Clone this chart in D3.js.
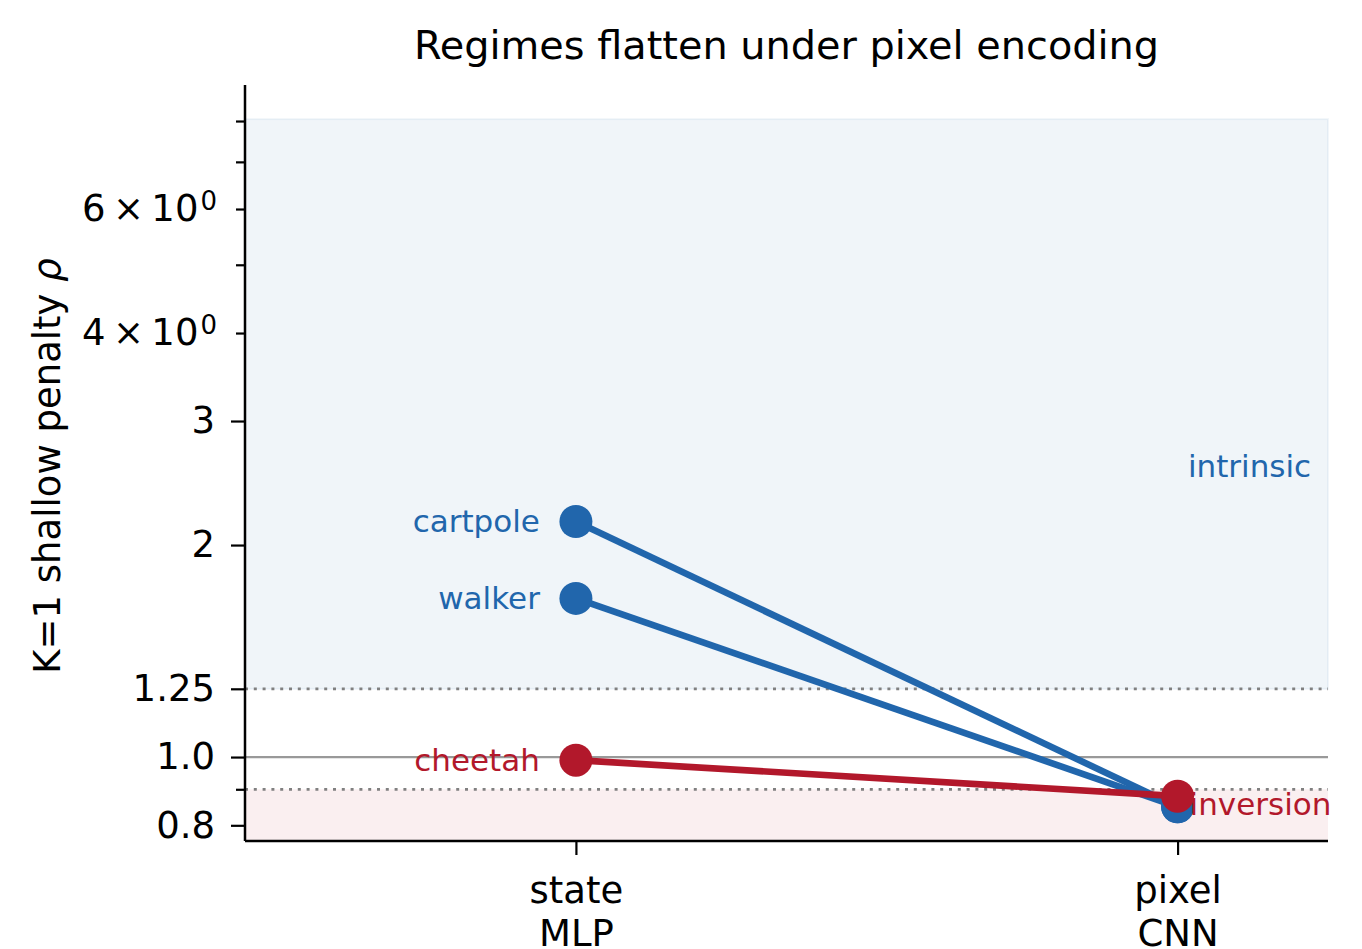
<!DOCTYPE html>
<html>
<head>
<meta charset="utf-8">
<script src="https://cdn.jsdelivr.net/npm/d3@7"></script>
<style>
  html, body { margin: 0; padding: 0; background: #fff; }
  svg { display: block; font-family: "DejaVu Sans", sans-serif; }
</style>
</head>
<body>
<svg id="chart" width="1362" height="949"></svg>
<script>
// ---------- data ----------
const encodings = ["state", "pixel"];
const architectures = ["MLP", "CNN"];
const envs = ["cartpole", "walker", "cheetah"];
const regimeOfEnv = ["intrinsic", "intrinsic", "inversion"];
const stateValues = [2.16, 1.68, 0.99];
const pixelValues = [0.85, 0.85, 0.88];
const majorTicks = [0.8, 1.0, 1.25, 2, 3];
const majorTickLabels = ["0.8", "1.0", "1.25", "2", "3"];
const minorTicks = [0.9, 4, 5, 6, 7, 8];
const minorTickLabels = ["", "4", "", "6", "", ""];
const intrinsicThreshold = 1.25;
const inversionThreshold = 0.9;
const intrinsicBandTop = 8.05;
const regimeLabels = ["intrinsic", "inversion"];

const colors = { intrinsic: "#2166ac", inversion: "#b2182b" };

// ---------- layout ----------
const svg = d3.select("#chart");
const L = 245, R = 1328, T = 85, B = 841;
const x = d3.scaleLinear().domain([-0.55, 1.25]).range([L, R]);
const y = d3.scaleLog().domain([0.76, 9.0]).range([B, T]);
const tickFont = 37, labelFont = 31;

// bands
svg.append("rect")
  .attr("x", L).attr("width", R - L)
  .attr("y", y(intrinsicBandTop)).attr("height", y(intrinsicThreshold) - y(intrinsicBandTop))
  .attr("fill", colors.intrinsic).attr("fill-opacity", 0.065)
  .attr("stroke", colors.intrinsic).attr("stroke-opacity", 0.06).attr("stroke-width", 2);
svg.append("rect")
  .attr("x", L).attr("width", R - L)
  .attr("y", y(inversionThreshold)).attr("height", B - y(inversionThreshold))
  .attr("fill", colors.inversion).attr("fill-opacity", 0.07);

// reference lines
svg.append("line")
  .attr("x1", L).attr("x2", R).attr("y1", y(1)).attr("y2", y(1))
  .attr("stroke", "#999").attr("stroke-width", 2.2);
[intrinsicThreshold, inversionThreshold].forEach(v => {
  svg.append("line")
    .attr("x1", L).attr("x2", R).attr("y1", y(v)).attr("y2", y(v))
    .attr("stroke", "#808080").attr("stroke-width", 2.8)
    .attr("stroke-dasharray", "3,5.8");
});

// regime labels
svg.append("text")
  .attr("x", x(1.222)).attr("y", y(2.59)).attr("dy", "0.35em")
  .attr("text-anchor", "end").attr("font-size", labelFont)
  .attr("fill", colors.intrinsic).text(regimeLabels[0]);

// lines + points
envs.forEach((env, i) => {
  const c = colors[regimeOfEnv[i]];
  svg.append("line")
    .attr("x1", x(0)).attr("y1", y(stateValues[i]))
    .attr("x2", x(1)).attr("y2", y(pixelValues[i]))
    .attr("stroke", c).attr("stroke-width", 6.6);
  svg.append("circle").attr("cx", x(0)).attr("cy", y(stateValues[i])).attr("r", 16.5).attr("fill", c);
  svg.append("circle").attr("cx", x(1)).attr("cy", y(pixelValues[i])).attr("r", 16.5).attr("fill", c);
  svg.append("text")
    .attr("x", x(0) - 36).attr("y", y(stateValues[i])).attr("dy", "0.35em")
    .attr("text-anchor", "end").attr("font-size", labelFont).attr("fill", c).text(env);
});

svg.append("text")
  .attr("x", x(1.02)).attr("y", y(0.858)).attr("dy", "0.35em")
  .attr("text-anchor", "start").attr("font-size", labelFont)
  .attr("fill", colors.inversion).text(regimeLabels[1]);

// ---------- axes ----------
const yMajor = d3.axisLeft(y).tickValues(majorTicks).tickSize(14).tickPadding(16)
  .tickFormat((d, i) => majorTickLabels[i]);
const gy = svg.append("g").attr("transform", `translate(${L},0)`).call(yMajor);
const yMinor = d3.axisLeft(y).tickValues(minorTicks).tickSize(9).tickPadding(19)
  .tickFormat(() => "");
const gym = svg.append("g").attr("transform", `translate(${L},0)`).call(yMinor);
gym.select(".domain").remove();
gym.selectAll(".tick text").each(function(d, i) {
  const lab = minorTickLabels[i];
  if (!lab) return;
  const t = d3.select(this);
  t.text(null);
  t.append("tspan").text(lab + "\u2009\u00d7\u200910");
  t.append("tspan").attr("class", "sup").attr("dx", 2).attr("dy", "-0.45em").text("0");
});

const xAxis = d3.axisBottom(x).tickValues([0, 1]).tickSize(14).tickFormat(() => "");
const gx = svg.append("g").attr("transform", `translate(0,${B})`).call(xAxis);
gx.selectAll(".tick text").each(function(d, i) {
  const t = d3.select(this);
  t.attr("y", null).attr("dy", null);
  t.append("tspan").attr("x", 0).attr("y", 62).text(encodings[i]);
  t.append("tspan").attr("x", 0).attr("y", 105).text(architectures[i]);
});

[gy, gym, gx].forEach(g => {
  g.selectAll("text").attr("font-size", tickFont).attr("fill", "#000")
    .attr("font-family", "DejaVu Sans, sans-serif");
  g.selectAll(".tick line").attr("stroke", "#000").attr("stroke-width", 2.2);
  g.select(".domain").attr("stroke", "#000").attr("stroke-width", 2.5);
});
gym.selectAll("tspan.sup").attr("font-size", 26);
gy.select(".domain").attr("d", `M0,${T}V${B}`);
gx.select(".domain").attr("d", `M${L},0H${R}`);

// y label
const yl = svg.append("text")
  .attr("transform", `translate(60,466) rotate(-90)`)
  .attr("text-anchor", "middle").attr("font-size", tickFont).attr("fill", "#000");
yl.append("tspan").text("K=1 shallow penalty ");
yl.append("tspan").attr("font-style", "italic").text("\u03c1");

// title
svg.append("text")
  .attr("x", (L + R) / 2).attr("y", 59)
  .attr("text-anchor", "middle").attr("font-size", 39.8).attr("fill", "#000")
  .text("Regimes flatten under pixel encoding");
</script>
</body>
</html>
